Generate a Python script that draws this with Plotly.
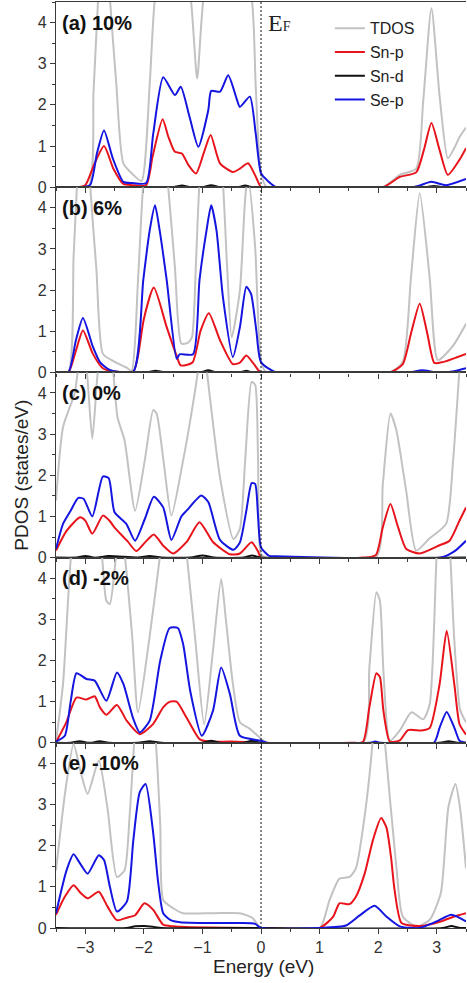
import plotly.graph_objects as go
from plotly.subplots import make_subplots

# ---------------- data: energies (eV) and projected DOS (states/eV) ----------------
# (a) 10 %
A_TDOS_E = [-3.5, -2.95, -2.86, -2.78, -2.68, -2.58, -2.47, -2.35, -2.18, -2.04, -1.9, -1.81, -1.5, -1.2, -1.09, -0.98, -0.6, -0.16, -0.09, 0.0, 0.1, 2.08, 2.37, 2.65, 2.77, 2.91, 3.05, 3.19, 3.3, 3.39, 3.5]
A_TDOS = [0, 0, 2.3, 4.6, 7.0, 4.6, 2.5, 0.58, 0.3, 0.15, 2.5, 4.6, 7.0, 4.6, 2.64, 4.6, 7.0, 4.6, 2.44, 0.33, 0, 0, 0.3, 0.45, 2.1, 4.35, 2.2, 0.7, 0.95, 1.22, 1.45]
A_SNP_E = [-3.5, -3.14, -3.0, -2.85, -2.68, -2.52, -2.35, -2.2, -1.96, -1.85, -1.68, -1.58, -1.47, -1.35, -1.24, -1.11, -0.98, -0.86, -0.7, -0.48, -0.36, -0.22, -0.1, 0.0, 0.1, 2.08, 2.37, 2.65, 2.78, 2.91, 3.05, 3.19, 3.39, 3.5]
A_SNP = [0, 0, 0.05, 0.55, 1.0, 0.45, 0.08, 0.05, 0.05, 0.75, 1.65, 1.22, 0.86, 0.82, 0.54, 0.33, 0.82, 1.27, 0.58, 0.37, 0.45, 0.58, 0.29, 0.0, 0, 0, 0.25, 0.36, 0.9, 1.56, 0.9, 0.3, 0.67, 0.95]
A_SND_E = [-3.5, -1.5, -1.35, -1.2, -1.0, -0.85, -0.7, -0.4, -0.27, -0.15, 0.0, 2.8, 2.95, 3.1, 3.5]
A_SND = [0, 0, 0.04, 0, 0, 0.05, 0, 0, 0.04, 0, 0, 0, 0.03, 0, 0]
A_SEP_E = [-3.5, -3.14, -2.92, -2.8, -2.68, -2.53, -2.35, -2.2, -1.96, -1.84, -1.67, -1.47, -1.37, -1.22, -1.07, -0.9, -0.85, -0.7, -0.56, -0.41, -0.36, -0.19, -0.09, 0.0, 0.11, 0.26, 2.6, 2.91, 3.16, 3.5]
A_SEP = [0, 0, 0.05, 0.83, 1.38, 0.7, 0.13, 0.1, 0.1, 1.3, 2.67, 2.24, 2.44, 1.71, 0.98, 1.87, 2.34, 2.32, 2.72, 2.12, 1.95, 2.2, 1.3, 0.34, 0.16, 0, 0, 0.13, 0.05, 0.2]

# (b) 6 %
B_TDOS_E = [-3.5, -3.29, -3.2, -3.14, -3.03, -2.92, -2.81, -2.7, -2.53, -2.3, -2.21, -2.1, -2.01, -1.8, -1.59, -1.47, -1.36, -1.25, -1.18, -1.11, -1.05, -0.85, -0.65, -0.58, -0.5, -0.36, -0.25, -0.21, -0.1, 0.0, 0.09, 2.2, 2.42, 2.56, 2.71, 2.88, 3.02, 3.28, 3.5]
B_TDOS = [0, 0, 2.8, 4.6, 7.5, 4.6, 2.5, 0.45, 0.28, 0.12, 0.04, 2.24, 4.6, 7.5, 4.6, 2.56, 0.7, 0.72, 0.85, 2.68, 4.6, 7.5, 4.6, 2.6, 0.85, 2.0, 4.5, 4.6, 3.05, 0.28, 0, 0, 0.25, 2.3, 4.35, 2.3, 0.3, 0.65, 1.18]
B_SNP_E = [-3.5, -3.29, -3.16, -3.04, -2.87, -2.7, -2.5, -2.18, -2.1, -2.0, -1.83, -1.61, -1.44, -1.37, -1.17, -1.03, -0.89, -0.7, -0.48, -0.36, -0.25, -0.12, 0.0, 2.2, 2.42, 2.56, 2.71, 2.84, 2.96, 3.1, 3.5]
B_SNP = [0, 0, 0.53, 1.02, 0.45, 0.1, 0.02, 0.02, 0.4, 1.3, 2.06, 1.1, 0.4, 0.17, 0.24, 1.02, 1.44, 0.78, 0.2, 0.24, 0.41, 0.2, 0.0, 0, 0.2, 0.94, 1.67, 0.94, 0.23, 0.25, 0.45]
B_SND_E = [-3.5, -1.95, -1.8, -1.65, -1.05, -0.9, -0.75, -0.35, -0.25, -0.15, 0.0, 2.6, 2.75, 2.9, 3.5]
B_SND = [0, 0, 0.04, 0, 0, 0.05, 0, 0, 0.04, 0, 0, 0, 0.03, 0, 0]
B_SEP_E = [-3.5, -3.29, -3.16, -3.04, -2.87, -2.75, -2.58, -2.18, -2.01, -1.9, -1.81, -1.73, -1.61, -1.44, -1.39, -1.16, -1.05, -0.93, -0.85, -0.76, -0.65, -0.48, -0.36, -0.25, -0.17, -0.08, 0.0, 0.26, 2.54, 2.74, 3.03, 3.3, 3.5]
B_SEP = [0, 0, 0.78, 1.32, 0.62, 0.25, 0.06, 0.02, 2.24, 3.45, 4.06, 3.45, 2.24, 0.33, 0.44, 0.44, 2.24, 3.45, 4.06, 3.45, 1.83, 0.37, 1.1, 2.08, 1.91, 1.02, 0.25, 0, 0, 0.05, 0.0, 0.03, 0.1]

# (c) 0 %
C_TDOS_E = [-3.5, -3.38, -3.18, -3.12, -3.05, -2.98, -2.88, -2.78, -2.65, -2.53, -2.45, -2.33, -2.15, -1.98, -1.84, -1.78, -1.66, -1.53, -1.33, -1.2, -1.07, -1.0, -0.93, -0.7, -0.47, -0.36, -0.27, -0.16, -0.1, -0.05, 0.0, 0.1, 1.96, 2.08, 2.21, 2.31, 2.48, 2.65, 2.88, 3.16, 3.28, 3.39, 3.5]
C_TDOS = [1.39, 3.17, 4.0, 4.6, 5.0, 4.6, 2.89, 4.6, 5.5, 4.6, 3.41, 2.85, 1.14, 2.4, 3.59, 3.49, 2.3, 1.02, 2.36, 3.4, 4.6, 5.5, 4.6, 1.95, 0.45, 0.7, 2.36, 4.27, 4.2, 2.36, 0.08, 0, 0, 1.79, 3.5, 3.1, 1.61, 0.17, 0.47, 0.82, 2.36, 4.6, 6.5]
C_SNP_E = [-3.5, -3.32, -3.09, -3.0, -2.88, -2.7, -2.59, -2.5, -2.28, -2.13, -1.98, -1.83, -1.67, -1.5, -1.27, -1.05, -0.82, -0.53, -0.36, -0.16, -0.05, 0.0, 1.74, 1.96, 2.08, 2.21, 2.34, 2.48, 2.71, 3.05, 3.22, 3.39, 3.5]
C_SNP = [0.17, 0.65, 0.98, 0.9, 0.58, 1.02, 0.9, 0.73, 0.4, 0.16, 0.37, 0.56, 0.29, 0.1, 0.38, 0.86, 0.38, 0.08, 0.1, 0.37, 0.15, 0.0, 0, 0.06, 0.74, 1.3, 0.74, 0.21, 0.1, 0.3, 0.41, 0.9, 1.22]
C_SND_E = [-3.5, -3.15, -3.0, -2.85, -2.8, -2.6, -2.1, -1.9, -1.7, -1.2, -1.0, -0.8, -0.3, -0.15, 0.0, 3.5]
C_SND = [0, 0, 0.04, 0, 0, 0.04, 0, 0.04, 0, 0, 0.05, 0, 0, 0.05, 0, 0]
C_SEP_E = [-3.5, -3.38, -3.25, -3.12, -3.03, -2.88, -2.7, -2.6, -2.5, -2.3, -2.15, -1.98, -1.83, -1.67, -1.53, -1.36, -1.27, -1.02, -0.9, -0.7, -0.47, -0.36, -0.25, -0.16, -0.1, -0.05, 0.0, 0.14, 0.26, 3.07, 3.3, 3.5]
C_SEP = [0.21, 0.82, 1.14, 1.45, 1.43, 1.0, 1.97, 1.93, 1.1, 0.82, 0.41, 0.95, 1.48, 1.22, 0.43, 1.0, 1.14, 1.51, 1.35, 0.43, 0.19, 0.37, 1.14, 1.81, 1.79, 1.0, 0.25, 0.04, 0.03, 0, 0.15, 0.41]

# (d) -2 %
D_TDOS_E = [-3.5, -3.38, -3.24, -3.0, -2.72, -2.64, -2.58, -2.47, -2.4, -2.33, -2.2, -2.1, -1.9, -1.72, -1.5, -1.27, -1.12, -0.97, -0.82, -0.68, -0.6, -0.48, -0.36, -0.2, 0.0, 0.1, 1.74, 1.85, 1.97, 2.03, 2.09, 2.2, 2.37, 2.57, 2.77, 2.88, 3.0, 3.12, 3.23, 3.3, 3.4, 3.5]
D_TDOS = [0.03, 1.43, 4.6, 7.0, 4.6, 3.45, 3.37, 4.6, 5.2, 4.6, 2.6, 0.74, 2.6, 4.6, 7.5, 4.6, 2.48, 0.45, 2.24, 3.98, 3.0, 1.43, 0.5, 0.35, 0.1, 0, 0, 1.83, 3.66, 3.45, 1.75, 0.05, 0.3, 0.74, 0.57, 0.93, 4.6, 7.0, 4.6, 2.5, 0.8, 0.5]
D_SNP_E = [-3.5, -3.33, -3.15, -2.98, -2.84, -2.75, -2.64, -2.46, -2.29, -2.07, -1.84, -1.67, -1.55, -1.44, -1.27, -1.05, -0.9, -0.5, 0.0, 1.54, 1.74, 1.85, 1.97, 2.03, 2.09, 2.2, 2.37, 2.51, 2.74, 2.88, 3.05, 3.17, 3.3, 3.39, 3.5]
D_SNP = [0.02, 0.48, 1.1, 1.05, 1.13, 0.86, 0.68, 0.92, 0.53, 0.21, 0.46, 0.86, 1.0, 1.0, 0.61, 0.09, 0.03, 0.03, 0.0, 0, 0.02, 0.86, 1.69, 1.6, 0.78, 0.03, 0.06, 0.31, 0.3, 0.36, 1.43, 2.72, 1.43, 0.45, 0.2]
D_SND_E = [-3.5, -3.25, -3.1, -2.95, -2.9, -2.75, -2.6, -2.1, -1.9, -1.7, -1.0, -0.85, -0.7, -0.3, -0.15, 0.0, 3.05, 3.2, 3.35, 3.5]
D_SND = [0, 0, 0.04, 0, 0, 0.04, 0, 0, 0.04, 0, 0, 0.05, 0, 0, 0.05, 0, 0, 0.04, 0, 0]
D_SEP_E = [-3.5, -3.35, -3.25, -3.15, -2.98, -2.84, -2.64, -2.46, -2.35, -2.18, -2.07, -1.9, -1.72, -1.56, -1.42, -1.33, -1.21, -1.01, -0.82, -0.68, -0.53, -0.36, 0.0, 0.1, 1.85, 1.95, 2.05, 2.95, 3.05, 3.17, 3.3, 3.39, 3.5]
D_SEP = [0.03, 0.17, 1.0, 1.69, 1.55, 1.51, 1.02, 1.71, 1.43, 0.58, 0.25, 0.54, 2.0, 2.79, 2.79, 2.4, 1.27, 0.17, 0.78, 1.83, 1.18, 0.17, 0.05, 0, 0, 0.03, 0, 0, 0.37, 0.75, 0.37, 0.05, 0.0]

# (e) -10 %
E_TDOS_E = [-3.5, -3.34, -3.2, -3.08, -2.96, -2.77, -2.62, -2.46, -2.33, -2.24, -2.16, -2.0, -1.8, -1.72, -1.67, -1.5, -1.33, -0.8, -0.36, -0.15, 0.0, 1.0, 1.17, 1.34, 1.51, 1.62, 1.79, 1.91, 2.0, 2.11, 2.31, 2.42, 2.65, 2.88, 3.07, 3.2, 3.32, 3.4, 3.5]
E_TDOS = [1.4, 3.34, 4.47, 3.8, 3.26, 4.07, 2.9, 1.24, 1.4, 2.8, 4.6, 7.0, 4.6, 2.5, 0.68, 0.48, 0.36, 0.36, 0.36, 0.25, 0.0, 0, 0.68, 1.2, 1.24, 1.45, 2.94, 4.6, 6.5, 4.6, 1.5, 0.28, 0.04, 0.2, 0.85, 2.94, 3.5, 2.9, 1.45]
E_SNP_E = [-3.5, -3.35, -3.2, -3.08, -2.96, -2.77, -2.62, -2.46, -2.29, -2.15, -1.99, -1.84, -1.67, -1.5, -1.2, 0.0, 1.0, 1.23, 1.34, 1.51, 1.62, 1.77, 1.91, 2.05, 2.14, 2.22, 2.28, 2.4, 2.72, 3.07, 3.3, 3.5]
E_SNP = [0.32, 0.76, 1.04, 0.85, 0.72, 0.88, 0.52, 0.19, 0.25, 0.31, 0.6, 0.44, 0.08, 0.04, 0.02, 0.0, 0, 0.27, 0.6, 0.58, 0.76, 1.32, 2.13, 2.67, 2.45, 1.72, 0.93, 0.12, 0.05, 0.16, 0.28, 0.36]
E_SND_E = [-3.5, -2.3, -2.15, -2.0, -1.85, -1.7, 0.0, 3.1, 3.25, 3.4, 3.5]
E_SND = [0, 0, 0.04, 0.05, 0.03, 0, 0, 0, 0.05, 0, 0]
E_SEP_E = [-3.5, -3.32, -3.2, -3.09, -2.96, -2.77, -2.68, -2.58, -2.46, -2.29, -2.18, -2.07, -1.97, -1.84, -1.76, -1.67, -1.55, -1.38, -0.8, -0.36, -0.1, 0.0, 1.0, 1.45, 1.68, 1.94, 2.14, 2.37, 2.7, 3.0, 3.25, 3.5]
E_SEP = [0.36, 1.4, 1.79, 1.57, 1.32, 1.77, 1.65, 1.0, 0.4, 0.64, 2.13, 3.3, 3.5, 2.3, 1.16, 0.36, 0.2, 0.14, 0.12, 0.12, 0.1, 0.0, 0, 0.06, 0.3, 0.54, 0.28, 0.04, 0.0, 0.16, 0.32, 0.16]

PANEL_LABELS = ["(a) 10%", "(b) 6%", "(c) 0%", "(d) -2%", "(e) -10%"]
SERIES_NAMES = ["TDOS", "Sn-p", "Sn-d", "Se-p"]
X_TICKS = [-3, -2, -1, 0, 1, 2, 3]
Y_TICKS = [0, 1, 2, 3, 4]

# ---------------- styling ----------------
COLORS = {"TDOS": "#c2c2c2", "Sn-p": "#e8141c", "Sn-d": "#111111", "Se-p": "#1515e0"}
AXIS_COLOR = "#3a3a3a"
FONT = "Liberation Sans, Arial, sans-serif"
X_RANGE = [-3.5, 3.5]
Y_RANGE = [0, 4.5]

panels = [
    [(A_TDOS_E, A_TDOS), (A_SNP_E, A_SNP), (A_SND_E, A_SND), (A_SEP_E, A_SEP)],
    [(B_TDOS_E, B_TDOS), (B_SNP_E, B_SNP), (B_SND_E, B_SND), (B_SEP_E, B_SEP)],
    [(C_TDOS_E, C_TDOS), (C_SNP_E, C_SNP), (C_SND_E, C_SND), (C_SEP_E, C_SEP)],
    [(D_TDOS_E, D_TDOS), (D_SNP_E, D_SNP), (D_SND_E, D_SND), (D_SEP_E, D_SEP)],
    [(E_TDOS_E, E_TDOS), (E_SNP_E, E_SNP), (E_SND_E, E_SND), (E_SEP_E, E_SEP)],
]

fig = make_subplots(rows=5, cols=1, shared_xaxes=True, vertical_spacing=0)

for r, curves in enumerate(panels, start=1):
    for name, (xs, ys) in zip(SERIES_NAMES, curves):
        fig.add_trace(
            go.Scatter(
                x=xs, y=ys, mode="lines", name=name,
                line=dict(color=COLORS[name], width=2, shape="spline", smoothing=0.6),
                showlegend=(r == 1), legendgroup=name, hoverinfo="skip",
            ),
            row=r, col=1,
        )
    fig.add_annotation(
        row=r, col=1, x=-3.44, y=4.0, xanchor="left", yanchor="middle",
        text="<b>%s</b>" % PANEL_LABELS[r - 1], showarrow=False,
        font=dict(family=FONT, size=20, color="#111111"),
    )

axis_common = dict(
    showline=True, linecolor=AXIS_COLOR, linewidth=1.3,
    showgrid=False, zeroline=False,
    ticks="outside", ticklen=5, tickwidth=1.2, tickcolor=AXIS_COLOR,
    tickfont=dict(family=FONT, size=16, color="#333333"),
)

for r in range(1, 6):
    fig.update_xaxes(
        row=r, col=1, range=X_RANGE, tickvals=X_TICKS, mirror=True,
        minor=dict(dtick=0.5, tick0=0, ticks="outside", ticklen=3, tickcolor=AXIS_COLOR),
        showticklabels=(r == 5), **axis_common,
    )
    fig.update_yaxes(
        row=r, col=1, range=Y_RANGE, tickvals=Y_TICKS,
        minor=dict(dtick=0.5, tick0=0, ticks="outside", ticklen=3, tickcolor=AXIS_COLOR),
        **axis_common,
    )

# right-hand frame of every panel with inward ticks
for r in range(1, 6):
    base = "y" if r == 1 else "y%d" % r
    anchor = "x" if r == 1 else "x%d" % r
    fig.update_layout({
        "yaxis%d" % (r + 5): dict(
            overlaying=base, anchor=anchor, side="right", range=Y_RANGE,
            showline=True, linecolor=AXIS_COLOR, linewidth=1.3,
            ticks="inside", tickvals=Y_TICKS, ticklen=5, tickwidth=1.2, tickcolor=AXIS_COLOR,
            minor=dict(dtick=0.5, tick0=0, ticks="inside", ticklen=3, tickcolor=AXIS_COLOR),
            showticklabels=False, showgrid=False, zeroline=False,
        )
    })

# Fermi level
fig.add_shape(
    type="line", xref="x5", yref="paper", x0=0, x1=0, y0=0, y1=1,
    line=dict(color="#111111", width=1, dash="2px,2px"), layer="above",
)
fig.add_annotation(
    row=1, col=1, x=0.08, y=4.0, xanchor="left", yanchor="middle", showarrow=False,
    text="E<span style='font-size:14px'>F</span>",
    font=dict(family="Liberation Serif, Times New Roman, serif", size=24, color="#222222"),
)

# axis titles
fig.add_annotation(
    xref="paper", yref="paper", x=-0.084, y=0.489, xanchor="center", yanchor="middle",
    textangle=-90, showarrow=False,
    text="PDOS (states/eV)", font=dict(family=FONT, size=19, color="#222222"),
)
fig.add_annotation(
    xref="paper", yref="paper", x=0.505, y=-0.042, xanchor="center", yanchor="middle",
    showarrow=False,
    text="Energy (eV)", font=dict(family=FONT, size=19, color="#222222"),
)

fig.update_layout(
    width=467, height=983,
    margin=dict(l=56, r=1, t=2, b=55),
    paper_bgcolor="white", plot_bgcolor="white",
    legend=dict(
        x=0.668, y=0.99, xanchor="left", yanchor="top",
        bgcolor="rgba(0,0,0,0)", borderwidth=0, tracegroupgap=0,
        font=dict(family=FONT, size=16, color="#222222"),
    ),
)

fig.write_html("out.html")
